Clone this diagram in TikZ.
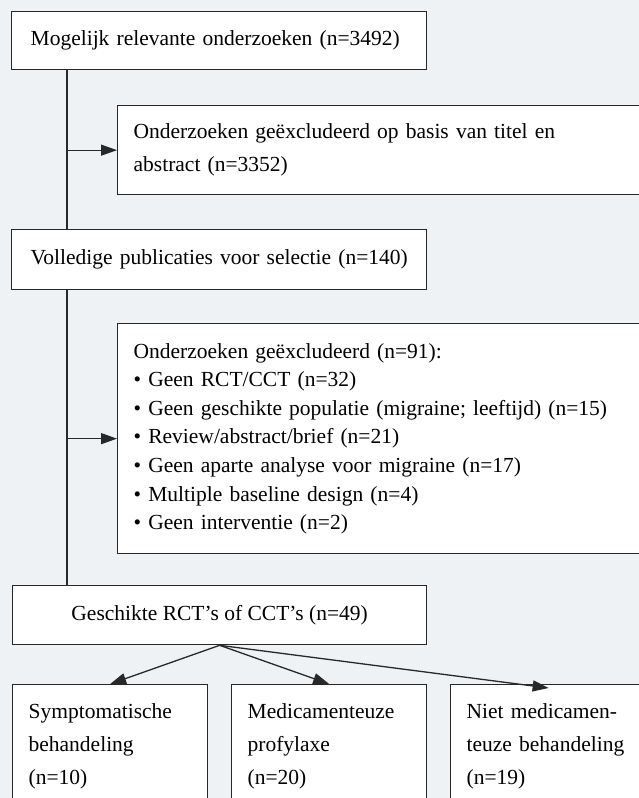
\documentclass[tikz,border=0pt]{standalone}
\usepackage{fontspec}
\setmainfont{Liberation Serif}
\usetikzlibrary{arrows.meta}
\definecolor{achtergrond}{RGB}{239,242,245}
\definecolor{lijnkleur}{RGB}{40,40,40}
\tikzstyle{vak} = [rectangle, draw=lijnkleur, fill=white, line width=1.3pt, anchor=north west, align=left, inner ysep=0pt, font=\fontsize{21.5}{33}\selectfont]
\tikzstyle{lijst} = [vak, font=\fontsize{21.5}{28.6}\selectfont]
\tikzstyle{lijn} = [draw=lijnkleur, line width=1.3pt]
\tikzstyle{pijl} = [lijn, -{Triangle[length=16pt,width=11pt]}]

\begin{document}
\begin{tikzpicture}[x=1pt, y=-1pt]
        \useasboundingbox (0,0) rectangle (639,798);
        \fill[achtergrond] (0,0) rectangle (639,798);
        \clip (0,0) rectangle (639,798);
        \node (mogelijk) [vak, inner xsep=19pt, text width=377pt, minimum height=58pt] at (11,11) {Mogelijk relevante onderzoeken (n=3492)};
        \node (excl1) [vak, inner xsep=16pt, text width=528pt, minimum height=89pt] at (117,105) {Onderzoeken geëxcludeerd op basis van titel en\\abstract (n=3352)};
        \node (volledig) [vak, inner xsep=19pt, text width=377pt, minimum height=60pt] at (11,229) {\mbox{Volledige publicaties voor selectie (n=140)}};
        \node (excl2) [lijst, inner xsep=16pt, text width=528pt, minimum height=230pt] at (117,323) {Onderzoeken geëxcludeerd (n=91):\\
        • Geen RCT/CCT (n=32)\\
        • Geen geschikte populatie (migraine; leeftijd) (n=15)\\
        • Review/abstract/brief (n=21)\\
        • Geen aparte analyse voor migraine (n=17)\\
        • Multiple baseline design (n=4)\\
        • Geen interventie (n=2)};
        \node (geschikt) [vak, align=center, minimum width=414pt, minimum height=59pt] at (12,585) {Geschikte RCT’s of CCT’s (n=49)};
        \node (symptom) [vak, inner xsep=16pt, text width=163pt, minimum height=124pt] at (12,684) {Symptomatische\\behandeling\\(n=10)};
        \node (profylaxe) [vak, inner xsep=16pt, text width=163pt, minimum height=124pt] at (231,684) {Medicamenteuze\\profylaxe\\(n=20)};
        \node (niet) [vak, inner xsep=16pt, text width=164pt, minimum height=124pt] at (450,684) {Niet medicamen-\\teuze behandeling\\(n=19)};
        \coordinate (stam) at (67,0);
        \draw [lijn] (mogelijk.south -| stam) -- (volledig.north -| stam);
        \draw [pijl] (stam |- excl1.west) -- (excl1.west);
        \draw [lijn] (volledig.south -| stam) -- (geschikt.north -| stam);
        \draw [pijl] (stam |- excl2.west) -- (excl2.west);
        \draw [pijl] (geschikt.south) -- (symptom.north);
        \draw [pijl] (geschikt.south) -- (profylaxe.north);
        \draw [pijl] (geschikt.south) -- ([yshift=-4pt]niet.north);
    \end{tikzpicture}
\end{document}
